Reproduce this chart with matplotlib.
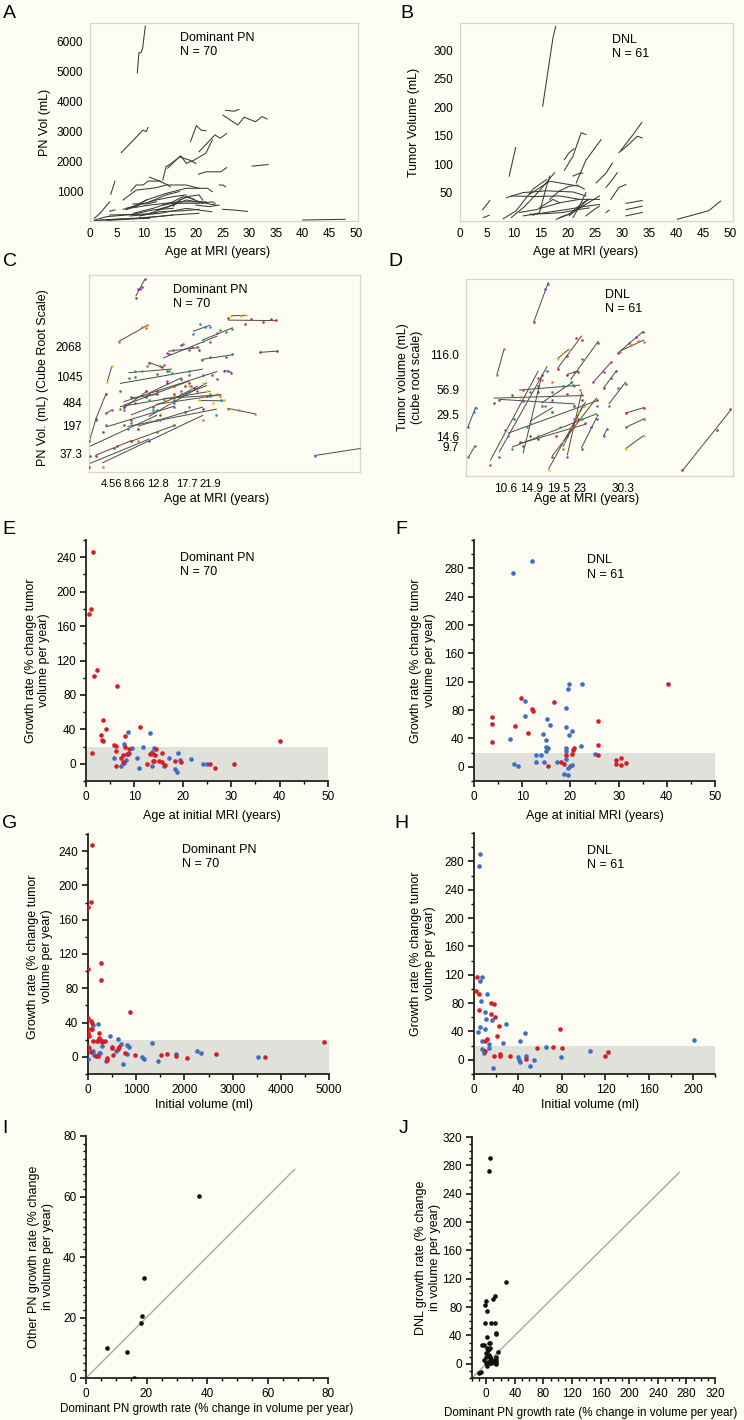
import numpy as np
import matplotlib
matplotlib.use('Agg')
import matplotlib.pyplot as plt
from matplotlib.ticker import MultipleLocator

plt.rcParams['font.family'] = ['Liberation Sans', 'DejaVu Sans']
plt.rcParams['font.size'] = 8.5

# ---- longitudinal volumes, dominant PN (age in years, volume in mL)
pn_ages = [
    [8.9, 9.2, 9.6, 9.9, 10.4], [5.9, 9.96, 10.6, 10.9], [18.9, 20.0, 20.9, 21.8],
    [20.5, 23.5, 24.5, 25.7], [25.0, 27.8, 29.0, 31.1, 32.4, 33.3], [25.5, 27.1, 28.0],
    [30.5, 33.5], [20.4, 21.8, 24.6, 25.7], [13.7, 14.3, 15.3, 17.1, 18.1, 19.6, 21.8, 23.0],
    [14.6, 16.8, 18.7, 19.9], [24.3, 25.0, 25.5], [24.9, 26.8, 29.6], [40.0, 48.0],
    [7.7, 8.7, 10.0, 10.9, 13.1, 14.6, 15.1], [11.2, 13.4], [3.9, 4.7], [1.9, 3.7],
    [6.2, 8.7, 12.5, 14.3, 18.1, 20.5], [6.8, 10.6, 14.3, 18.1, 22.1, 23.0],
    [0.9, 3.1, 6.8, 12.5], [0.8, 5.0, 11.2], [3.1, 9.3, 15.6, 20.5], [7.5, 13.1, 18.1, 22.9],
    [6.2, 11.2, 16.8, 21.8], [6.8, 12.5, 15.6, 18.1], [11.2, 14.9, 18.1, 20.5, 21.2],
    [8.1, 11.8, 15.6, 17.4, 19.0, 21.2], [12.5, 15.6, 18.1, 21.8, 23.7], [15.6, 16.8, 18.4, 19.6],
    [8.1, 10.6, 12.5], [6.8, 8.7, 10.6], [13.7, 15.6, 20.5, 23.0, 23.5], [3.7, 8.1, 11.8, 15.6],
    [8.1, 12.5, 15.6], [1.9, 5.6, 8.1], [19.9, 22.4, 24.3], [9.3, 13.1, 17.4, 20.5],
    [0.8, 1.9], [3.7, 4.7], [11.2, 14.3, 16.8],
]
pn_vols = [
    [4940, 5610, 5610, 5760, 6500], [2280, 3030, 2980, 3120], [2640, 3180, 3030, 3010],
    [2310, 2870, 2760, 2920], [3530, 3200, 3460, 3310, 3480, 3400], [3690, 3660, 3720],
    [1830, 1880], [1560, 1640, 1640, 1780], [1370, 1810, 1920, 2170, 1920, 2030, 2260, 2700],
    [1760, 2140, 2030, 1920], [1200, 1200, 1140], [390, 370, 320], [33, 56],
    [1000, 1200, 1200, 1330, 1330, 1200, 1140], [1460, 1310], [890, 1330], [260, 640],
    [700, 1030, 1110, 1200, 1200, 1090], [370, 700, 920, 1090, 1090, 980],
    [33, 144, 200, 256], [11, 56, 89], [11, 89, 200, 256], [167, 256, 420, 310],
    [390, 530, 640, 640], [420, 700, 810, 870], [256, 480, 810, 870, 700],
    [256, 420, 640, 810, 760, 590], [370, 530, 700, 590, 530], [480, 700, 810, 700],
    [570, 570, 640], [420, 480, 700], [530, 590, 590, 640, 590], [200, 220, 370, 420],
    [89, 144, 200], [33, 67, 89], [530, 480, 530], [167, 310, 340, 390],
    [89, 256], [330, 370], [640, 870, 980],
]

# ---- longitudinal volumes, DNL
dnl_ages = [
    [15.3, 17.2, 17.7], [9.1, 10.3], [4.2, 5.2, 5.5], [4.3, 5.4], [19.3, 20.9, 22.4, 23.3],
    [19.3, 20.2, 21.1], [20.9, 22.1, 22.7], [21.5, 23.3, 26.1], [25.2, 27.0, 28.2],
    [27.0, 28.2, 29.1], [29.4, 31.3, 32.5, 33.6], [29.8, 31.6, 32.8, 33.7], [27.9, 29.4, 30.7],
    [30.7, 33.7], [30.7, 33.7], [30.7, 33.7], [40.2, 46.0, 48.2], [9.5, 12.0, 14.7, 17.5],
    [8.0, 10.4, 13.5, 16.0], [8.6, 11.7, 16.0, 20.9, 23.3], [9.5, 13.5, 18.4, 22.1],
    [12.9, 16.6, 18.4, 22.1, 23.0], [11.0, 14.1, 18.4, 22.1, 25.8], [11.7, 16.0, 19.6, 23.3, 25.8],
    [12.9, 16.0, 19.0, 21.8, 23.9], [17.8, 20.2, 22.7, 23.9], [18.4, 20.9, 22.7, 25.8],
    [16.6, 18.4, 20.2, 21.8], [20.9, 22.1, 23.3], [13.5, 14.7, 16.0, 16.6], [23.3, 24.8, 25.8],
    [20.2, 21.5, 22.4, 23.6], [27.0, 27.6], [14.7, 17.2, 18.4],
]
dnl_vols = [
    [202, 322, 342], [79, 129], [20, 32, 36], [6, 10], [89, 114, 155, 152], [108, 120, 127],
    [79, 84, 84], [67, 107, 143], [67, 84, 102], [59, 73, 85], [120, 143, 158, 173],
    [123, 138, 149, 146], [38, 59, 64], [20, 26], [31, 36], [9, 15], [3, 18, 35],
    [6, 26, 53, 85], [4, 18, 56, 73], [41, 50, 53, 51, 44], [44, 43, 44, 38],
    [47, 70, 67, 61, 56], [15, 20, 32, 38, 38], [9, 15, 20, 26, 29], [12, 13, 15, 20, 23],
    [3, 12, 32, 38], [6, 15, 26, 44], [38, 53, 61, 63], [6, 26, 50], [10, 15, 61, 79],
    [9, 20, 26], [9, 20, 26, 38], [15, 19], [23, 38, 32],
]

# ---- growth rate vs age at initial MRI, dominant PN
e_red_age = [1.4, 1.0, 0.6, 2.3, 1.7, 6.5, 3.6, 4.2, 3.1, 3.4, 3.6, 11.2, 8.1, 40.1, 5.8, 6.1, 8.1,
             1.2, 6.1, 6.2, 7.2, 7.7, 7.7, 8.4, 8.7, 8.9, 12.5, 13.3, 13.8, 14.2, 13.8, 14.1, 14.5,
             15.1, 15.6, 15.8, 16.4, 18.3, 19.7, 25.7, 26.7, 30.5]
e_red_rate = [246, 180, 174, 109, 102, 90, 51, 40, 33, 28, 27, 43, 32, 27, 22, 21, 20,
              12, 15, -2, 7, 2, 10, 11, 11, 17, 0, 11, 11, 10, 3.5, 3.5, 17,
              3.5, 2, 12, -1, 3.5, 2, 0, -5, 0]
e_blue_age = [8.6, 13.3, 7.8, 11.8, 5.8, 7.2, 7.9, 8.3, 8.9, 10.5, 11.0, 13.7, 13.7, 16.2, 17.2,
              19.1, 18.3, 18.9, 19.5, 21.6, 24.2, 24.9, 14.0, 9.5]
e_blue_rate = [37, 36, 23, 20, 7, -2, 1, 4, 13, 7, -5, 14, -2, -2, 7,
               12, -6, -9, 4, 5, 0, 0, 18, 18]

# ---- growth rate vs age at initial MRI, DNL
f_red_age = [40.3, 9.8, 16.6, 12.1, 12.2, 3.7, 25.7, 3.7, 8.6, 11.1, 3.7, 25.7, 20.7, 18.0, 18.7,
             15.4, 19.0, 20.4, 20.6, 25.7, 29.4, 29.4, 30.6, 30.6, 31.6]
f_red_rate = [117.5, 97.7, 92, 81, 79, 70, 65, 60, 57, 48, 35, 30.5, 27, 6.6, 4.2,
              0.5, 16, 18, 24, 17, 10, 4, 12, 3, 5]
f_blue_age = [8.1, 12.0, 19.8, 19.6, 22.5, 10.6, 19.0, 10.6, 15.2, 15.7, 19.0, 20.3, 14.4, 19.8,
              7.4, 14.9, 22.3, 14.9, 15.3, 19.0, 8.4, 9.1, 12.9, 13.8, 12.9, 14.5, 14.9, 17.3,
              19.0, 19.1, 18.7, 19.4, 19.5, 19.9, 20.3, 25.0]
f_blue_rate = [273, 291, 117.5, 110, 117.5, 92.6, 83, 72, 67.7, 58.6, 55.5, 51, 47, 45,
               39, 38, 30, 28, 27, 27, 4, 1.4, 16, 16, 7.5, 7.5, 23, 6.6,
               23, 11, -10, -12, -2, 0.5, 2, 18]

# ---- growth rate vs initial volume, dominant PN
g_red_vol = [76, 62, 0, 263, 0, 277, 871, 6, 55, 90, 0, 55, 90, 0, 228, 28, 235, 270, 110, 180,
             284, 353, 6, 28, 498, 498, 643, 622, 62, 159, 200, 512, 768, 975, 1521, 1645, 1819,
             2046, 2649, 3672, 4890, 387, 401]
g_red_rate = [247, 181, 175, 109, 102, 90, 52, 45, 42, 40, 33, 33, 33, 28, 28, 24, 22, 20, 18, 19,
              17, 18, 12, 10, 12, 10, 11, 9, 6, 1, 1, 2, 4, 2, 2, 3, 1,
              -1.5, 3, 0, 17, -3.4, -1.5]
g_blue_vol = [110, 200, 456, 616, 200, 284, 1328, 685, 802, 857, 574, 97, 131, 235, 249, 816,
              1127, 1162, 1459, 1832, 2268, 2351, 3534, 0, 373, 733]
g_blue_rate = [37, 38, 24, 21, 18, 13, 16, 15, 14, 12, 7, 7, 2, 4, 4, 3,
               0, -2, -5, 3, 7, 5, 0, -2, -5, -8.5]

# ---- growth rate vs initial volume, DNL
h_red_vol = [3.0, 1.8, 4.8, 15.8, 18.3, 4.8, 15.2, 19.5, 23.1, 78.8, 21, 11.9, 9.7, 57.5, 71.9,
             80.4, 10.3, 18.0, 23.3, 24.0, 32.9, 47.5, 119.9, 122]
h_red_rate = [117.5, 97.7, 92.6, 80.8, 78.5, 70.6, 65, 60, 48, 44, 34, 30, 26, 17, 18,
              16.5, 12, 4.7, 4.7, 8, 5.6, 1.4, 4.7, 10.4]
h_blue_vol = [5.8, 4.3, 7.3, 5.8, 11.9, 6.4, 10.3, 11.3, 16.4, 29.2, 5.8, 10.3, 3.7, 46.9, 7.3,
              13.5, 26.2, 42.3, 14.0, 7.3, 65.8, 201, 9.1, 9.4, 40.2, 40.8, 42.2, 47.8, 54.5,
              50.9, 17.4, 79.7, 106.2]
h_blue_rate = [291, 273, 117.5, 111, 92.6, 83.6, 68, 58, 55.5, 51, 47, 44, 39, 38, 26,
               22, 23.5, 26, 17, 15.5, 18.4, 28, 9.4, 12.7, 3.8, 0, -2.4, 6, 0,
               -9.4, -11.8, 3.3, 11.8]

# ---- other PN vs dominant PN growth rate
i_dominant = [6.8, 13.7, 16.0, 18.3, 18.5, 19.2, 37.5]
i_other = [9.9, 8.6, 0.1, 18.3, 20.4, 33.1, 60.1]
i_identity = [0, 69]

# ---- DNL vs dominant PN growth rate
j_dominant = [4.7, 3.2, 27, 11.7, 10, 0, -1.4, 1, -1.4, 7, 11.7, 13.6, 13, 1.4, 5.6, 3.9, -6,
              -3.6, 0.8, 4.7, 2.3, -1, 3.9, 0, 4.7, 7, 11.7, 13, 14, 9.4, 2.3, 1, 5.6, 16, 13,
              -8, -9.7, -3.6, 0, 7, 12, 14, 3, 5.6]
j_dnl = [291, 272, 116, 96, 92, 89, 83, 75, 57, 57, 57, 44, 42, 38.5, 29, 29, 27,
         27, 23, 22, 19, 15, 13, 10, 8, 6.6, 5.6, 2, 0, 3, 2, -3, 1, 16, 9,
         -11, -12.6, 6, 1, 1, 0.5, 5, 20, 10]
j_identity = [-20, 270]

# ticks of the cube-root panels
c_xticks = [4.56, 8.66, 12.8, 17.7, 21.9]
c_yticks = [37.3, 197, 484, 1045, 2068]
d_xticks = [10.6, 14.9, 19.5, 23, 30.3]
d_yticks = [9.7, 14.6, 29.5, 56.9, 116.0]

BG = '#fdfdf4'
BAND = '#e1e1dc'
RED = '#d41f26'
BLUE = '#3d6fc2'
DOT_COLORS = ['#8a3fa8', '#e07a1f', '#3a80c9', '#3c9e47', '#d42a2a', '#e6c21e',
              '#8b4a1c', '#1d8585', '#b23fb0', '#5a5a5a']

W, H = 744, 1420
fig = plt.figure(figsize=(W / 100, H / 100), dpi=100, facecolor=BG)


def add_box(l, t, r, b):
    ax = fig.add_axes([l / W, 1 - b / H, (r - l) / W, (b - t) / H])
    ax.set_facecolor(BG)
    return ax


def light_frame(ax):
    for s in ax.spines.values():
        s.set_color('#d6d6c8')
        s.set_linewidth(0.9)
    ax.tick_params(length=0, pad=5, labelsize=8.5)


def axis_frame(ax):
    ax.spines['top'].set_visible(False)
    ax.spines['right'].set_visible(False)
    for s in ('left', 'bottom'):
        ax.spines[s].set_linewidth(1.3)
        ax.spines[s].set_color('#222222')
    ax.tick_params(which='major', direction='out', length=4, width=1.1, labelsize=8.5, pad=3)
    ax.tick_params(which='minor', direction='out', length=2.5, width=1.0)


def labels(ax, xl, xpos, yl, ypos, xsize=9):
    ax.set_xlabel(xl, fontsize=xsize, va='center')
    ax.xaxis.set_label_coords(*xpos)
    ax.set_ylabel(yl, fontsize=9, va='center', ha='center', multialignment='center')
    ax.yaxis.set_label_coords(*ypos)


def note(ax, x, y, txt):
    ax.text(x, y, txt, transform=ax.transAxes, fontsize=9, va='top', ha='left', linespacing=1.25)


def letter(x, y, s):
    fig.text(x / W, 1 - y / H, s, fontsize=14, va='top', ha='left')


cube = (np.cbrt, lambda v: np.power(v, 3))

# A
ax = add_box(90, 23, 358, 221)
for a, v in zip(pn_ages, pn_vols):
    ax.plot(a, v, color='#3a3a3a', lw=0.75)
ax.set_xlim(0, 50.4)
ax.set_ylim(0, 6600)
ax.set_xticks(range(0, 51, 5))
ax.set_yticks(range(1000, 6001, 1000))
light_frame(ax)
labels(ax, 'Age at MRI (years)', (0.475, -0.157), 'PN Vol (mL)', (-0.169, 0.5))
note(ax, 0.335, 0.955, 'Dominant PN\nN = 70')

# B
ax = add_box(460, 23, 733, 221)
for a, v in zip(dnl_ages, dnl_vols):
    ax.plot(a, v, color='#3a3a3a', lw=0.75)
ax.set_xlim(0.2, 50.5)
ax.set_ylim(0, 348)
ax.set_xticks(range(0, 51, 5))
ax.set_yticks(range(50, 301, 50))
light_frame(ax)
labels(ax, 'Age at MRI (years)', (0.46, -0.157), 'Tumor Volume (mL)', (-0.168, 0.5))
note(ax, 0.557, 0.945, 'DNL\nN = 61')


def cube_panel(ax, ages, vols):
    ax.set_yscale('function', functions=cube)
    for k, (a, v) in enumerate(zip(ages, vols)):
        a = np.asarray(a, float)
        v = np.asarray(v, float)
        slope, icpt = np.polyfit(a, np.cbrt(v), 1)
        xs = np.array([a.min(), a.max()])
        ax.plot(xs, (slope * xs + icpt) ** 3, color='#4a4a4a', lw=0.7, zorder=2)
        ax.scatter(a, v, s=3.5, color=DOT_COLORS[k % len(DOT_COLORS)], lw=0, zorder=3)


# C
ax = add_box(89, 275, 360, 472)
cube_panel(ax, pn_ages, pn_vols)
ax.set_xlim(0.73, 47.9)
ax.set_ylim(5.5, 6860)
ax.set_xticks(c_xticks, [str(t) for t in c_xticks])
ax.set_yticks(c_yticks, [str(t) for t in c_yticks])
ax.minorticks_off()
light_frame(ax)
ax.tick_params(axis='x', labelsize=8)
labels(ax, 'Age at MRI (years)', (0.47, -0.137), 'PN Vol. (mL) (Cube Root Scale)', (-0.17, 0.48))
note(ax, 0.31, 0.955, 'Dominant PN\nN = 70')

# D
ax = add_box(466, 279, 733, 476)
cube_panel(ax, dnl_ages, dnl_vols)
ax.set_xlim(3.9, 48.7)
ax.set_ylim(2.0, 365)
ax.set_xticks(d_xticks, ['10.6', '14.9', '19.5', '23', '30.3'])
ax.set_yticks(d_yticks, ['9.7', '14.6', '29.5', '56.9', '116.0'])
ax.minorticks_off()
light_frame(ax)
labels(ax, 'Age at MRI (years)', (0.45, -0.117), 'Tumor volume (mL)\n(cube root scale)', (-0.21, 0.5))
note(ax, 0.52, 0.95, 'DNL\nN = 61')

GR = 'Growth rate (% change tumor\nvolume per year)'


def rate_panel(box, rx, ry, bx, by, xlim, ylim, xstep, xminor, ystep, xl, xlpos, ylpos, txt, txtpos):
    ax = add_box(*box)
    ax.axhspan(-20, 20, color=BAND, lw=0, zorder=0)
    ax.scatter(bx, by, s=11, color=BLUE, lw=0, zorder=3)
    ax.scatter(rx, ry, s=11, color=RED, lw=0, zorder=3)
    ax.set_xlim(*xlim)
    ax.set_ylim(*ylim)
    ax.set_xticks(np.arange(xlim[0], xlim[1] + 1e-9, xstep))
    ax.xaxis.set_minor_locator(MultipleLocator(xminor))
    ax.set_yticks(np.arange(0, ylim[1] - 19, ystep))
    ax.yaxis.set_minor_locator(MultipleLocator(20))
    axis_frame(ax)
    labels(ax, xl, xlpos, GR, ylpos)
    note(ax, txtpos[0], txtpos[1], txt)
    return ax


ax = rate_panel((86, 540, 328, 781), e_red_age, e_red_rate, e_blue_age, e_blue_rate,
                (0, 50), (-20, 260), 10, 5, 40, 'Age at initial MRI (years)',
                (0.52, -0.145), (-0.2, 0.5), 'Dominant PN\nN = 70', (0.39, 0.95))
ax = rate_panel((474, 540, 715, 781), f_red_age, f_red_rate, f_blue_age, f_blue_rate,
                (0, 50), (-20, 320), 10, 5, 40, 'Age at initial MRI (years)',
                (0.5, -0.145), (-0.21, 0.5), 'DNL\nN = 61', (0.47, 0.94))
ax = rate_panel((88, 834, 329, 1074), g_red_vol, g_red_rate, g_blue_vol, g_blue_rate,
                (0, 5000), (-20, 260), 1000, 500, 40, 'Initial volume (ml)',
                (0.48, -0.129), (-0.2, 0.49), 'Dominant PN\nN = 70', (0.39, 0.958))
ax = rate_panel((474, 833, 715, 1074), h_red_vol, h_red_rate, h_blue_vol, h_blue_rate,
                (0, 220), (-20, 320), 40, 20, 40, 'Initial volume (ml)',
                (0.48, -0.129), (-0.21, 0.5), 'DNL\nN = 61', (0.47, 0.95))
ax.set_xticks(range(0, 201, 40))

XL = 'Dominant PN growth rate (% change in volume per year)'

# I
ax = add_box(86, 1136, 328, 1378)
ax.plot(i_identity, i_identity, color='#a8a8a8', lw=1.0, zorder=1)
ax.scatter(i_dominant, i_other, s=11, color='#111111', lw=0, zorder=3)
ax.set_xlim(0, 80)
ax.set_ylim(0, 80)
ax.set_xticks(range(0, 81, 20))
ax.set_yticks(range(0, 81, 20))
ax.xaxis.set_minor_locator(MultipleLocator(5))
ax.yaxis.set_minor_locator(MultipleLocator(2.5))
axis_frame(ax)
labels(ax, XL, (0.5, -0.128), 'Other PN growth rate (% change\nin volume per year)', (-0.186, 0.5),
       xsize=8.4)

# J
ax = add_box(472, 1137, 715, 1378)
ax.plot(j_identity, j_identity, color='#a8a8a8', lw=1.0, zorder=1)
ax.scatter(j_dominant, j_dnl, s=11, color='#111111', lw=0, zorder=3)
ax.set_xlim(-20, 320)
ax.set_ylim(-20, 320)
ax.set_xticks(range(0, 321, 40))
ax.set_yticks(range(0, 321, 40))
ax.xaxis.set_minor_locator(MultipleLocator(10))
ax.yaxis.set_minor_locator(MultipleLocator(10))
axis_frame(ax)
labels(ax, XL, (0.49, -0.145), 'DNL growth rate (% change\nin volume per year)', (-0.18, 0.5),
       xsize=8.4)

for x, y, s in [(3, 5, 'A'), (400, 5, 'B'), (3, 253, 'C'), (388, 253, 'D'), (2, 521, 'E'),
                (395, 521, 'F'), (2, 815, 'G'), (394, 815, 'H'), (2, 1120, 'I'), (399, 1120, 'J')]:
    letter(x, y, s)

fig.savefig('out.png', dpi=100, facecolor=BG)
